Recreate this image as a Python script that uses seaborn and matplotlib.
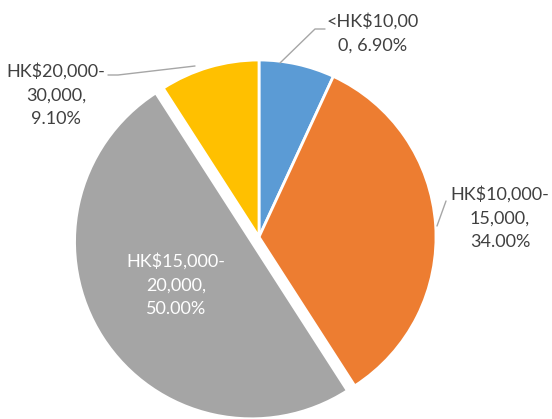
import matplotlib
matplotlib.use("Agg")
import matplotlib.pyplot as plt
import seaborn as sns

sns.set_theme(style="white")
plt.rcParams['font.family'] = ['Lato', 'DejaVu Sans']

categories = ["<HK$10,000", "HK$10,000-15,000", "HK$15,000-20,000", "HK$20,000-30,000"]
values = [6.90, 34.00, 50.00, 9.10]
label_texts = ["<HK$10,00\n0, 6.90%", "HK$10,000-\n15,000,\n34.00%",
               "HK$15,000-\n20,000,\n50.00%", "HK$20,000-\n30,000,\n9.10%"]
colors = ["#5B9BD5", "#ED7D31", "#A5A5A5", "#FFC000"]
explode = [0, 0, 0.05, 0]

W, H = 552, 419
CX, CY, R = 259, 237, 177

def px(x, y):
    return ((x - CX) / R, (CY - y) / R)

fig = plt.figure(figsize=(W / 100, H / 100), dpi=100)
ax = fig.add_axes([0, 0, 1, 1])
ax.pie(values, colors=colors, startangle=90, counterclock=False, explode=explode,
       wedgeprops=dict(edgecolor="white", linewidth=2))
ax.set_xlim(-CX / R, (W - CX) / R)
ax.set_ylim(-(H - CY) / R, CY / R)
ax.set_aspect('equal', adjustable='box')
ax.axis('off')

txt = "#404040"
fs = 13
ls = 1.6
lc = "#A6A6A6"

ax.text(*px(373, 33), label_texts[0], ha="center", va="center", fontsize=fs, color=txt, linespacing=ls)
ax.plot(*zip(px(280, 63), px(315, 29), px(325, 29)), color=lc, lw=1)

ax.text(*px(500, 218), label_texts[1], ha="center", va="center", fontsize=fs, color=txt, linespacing=ls)
ax.plot(*zip(px(437, 226), px(446, 201)), color=lc, lw=1)

ax.text(*px(176, 285), label_texts[2], ha="center", va="center", fontsize=fs, color="white", linespacing=ls)

ax.text(*px(56, 95), label_texts[3], ha="center", va="center", fontsize=fs, color=txt, linespacing=ls)
ax.plot(*zip(px(108, 75), px(118, 75), px(195, 66)), color=lc, lw=1)

fig.savefig("out.png", dpi=100)
